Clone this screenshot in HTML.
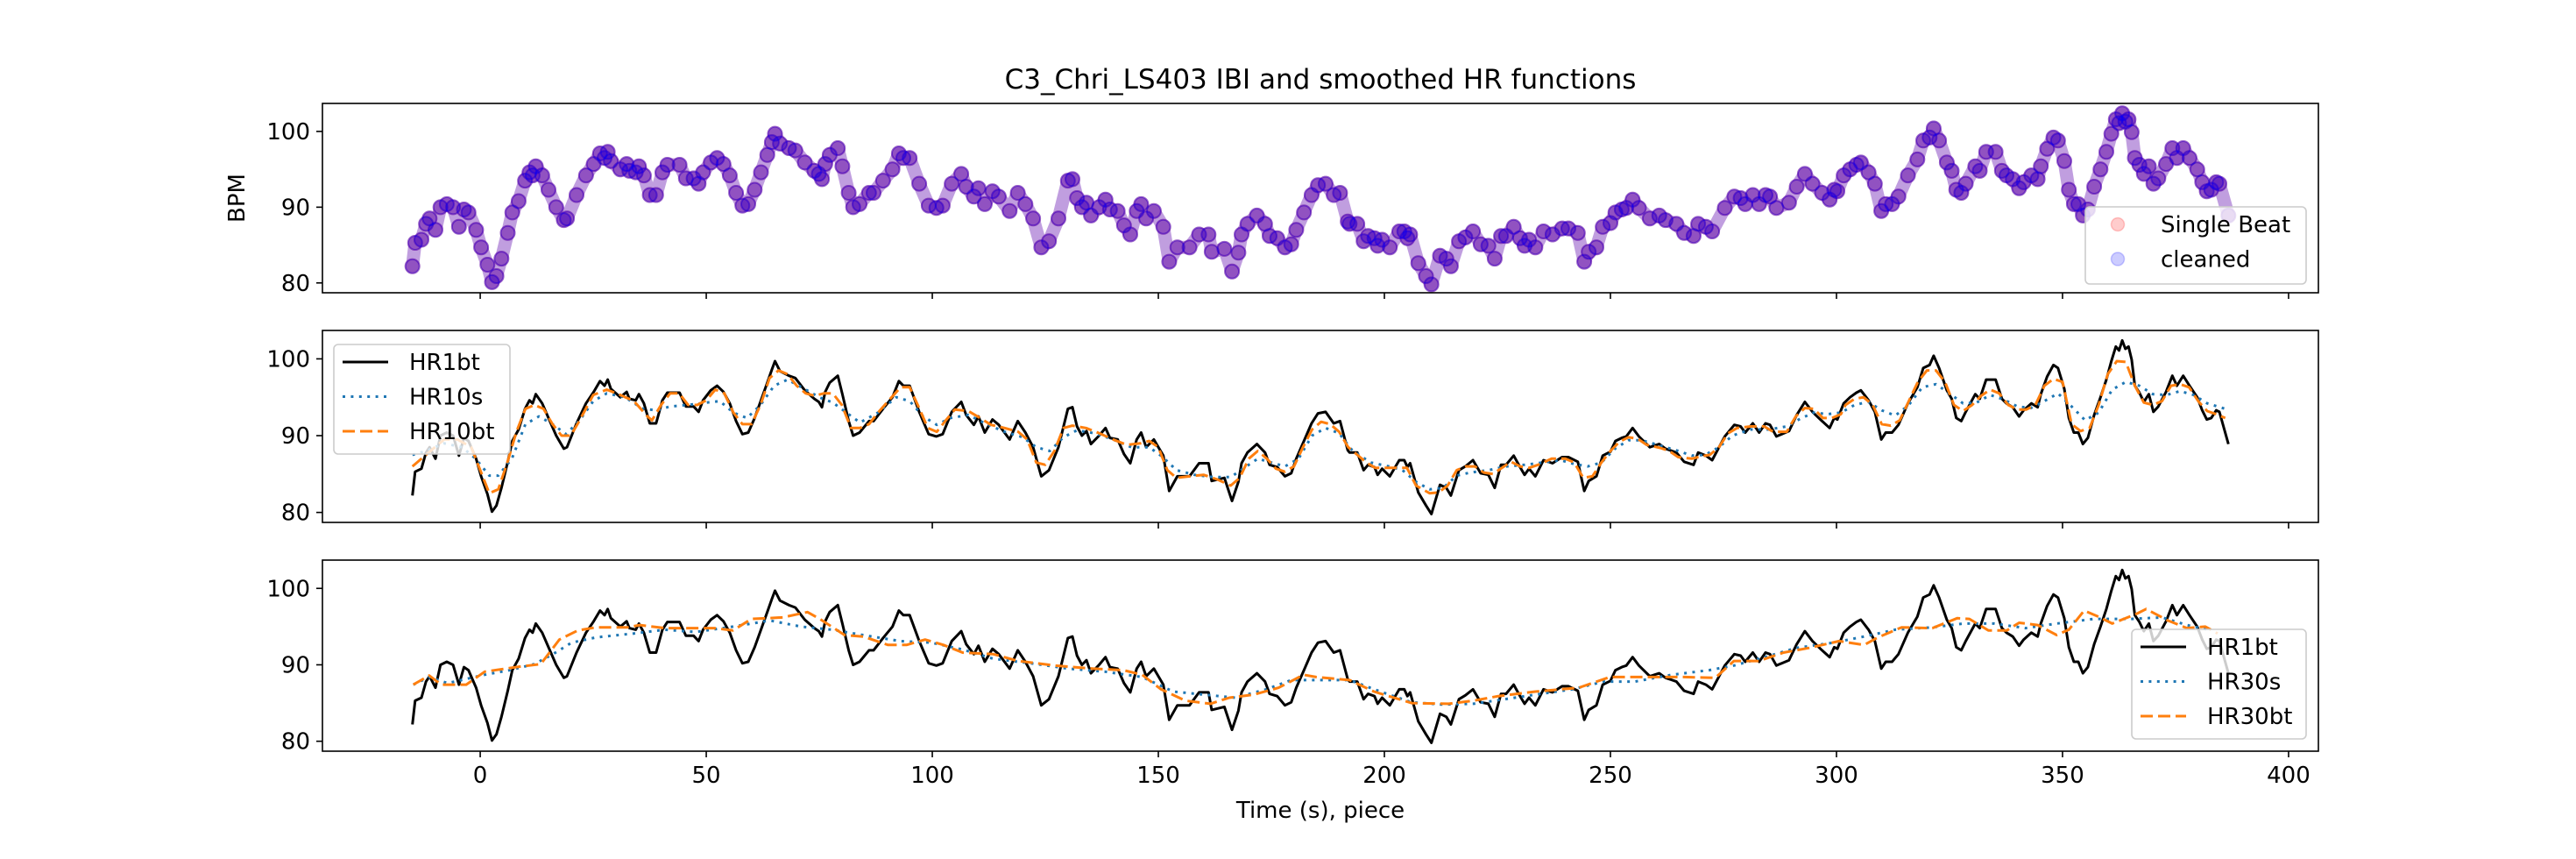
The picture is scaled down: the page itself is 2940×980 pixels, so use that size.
<!DOCTYPE html>
<html><head><meta charset="utf-8">
<style>
html,body{margin:0;padding:0;background:#fff;}
svg{display:block;font-family:"DejaVu Sans","Liberation Sans",sans-serif;}
</style></head>
<body>
<svg id="chart" width="2940" height="980" viewBox="0 0 2940 980" xmlns="http://www.w3.org/2000/svg">
<rect x="0" y="0" width="2940" height="980" fill="#fff"/>
<text x="1507" y="101" font-size="31" text-anchor="middle" fill="#000">C3_Chri_LS403 IBI and smoothed HR functions</text>
</svg>
<script>
// ---- data ----
const xTicks = [0,50,100,150,200,250,300,350,400];
const yTicks = [80,90,100];
const hr1 = [[-15.0,82.2],[-14.4,85.3],[-13.0,85.7],[-12.0,87.8],[-11.2,88.5],[-9.9,87.0],[-8.8,90.0],[-7.4,90.4],[-6.0,90.0],[-4.7,87.4],[-3.6,89.7],[-2.6,89.3],[-0.9,87.0],[0.2,84.7],[1.6,82.4],[2.6,80.1],[3.6,80.9],[4.7,83.2],[6.1,86.6],[7.1,89.3],[8.5,90.8],[9.9,93.5],[10.9,94.6],[11.6,94.2],[12.3,95.4],[13.7,94.2],[15.1,92.3],[16.8,90.0],[18.5,88.3],[19.2,88.5],[21.3,91.6],[23.4,94.2],[25.1,95.7],[26.5,97.1],[27.5,96.5],[28.2,97.3],[28.9,96.1],[31.0,95.0],[32.4,95.7],[33.0,94.8],[34.4,94.6],[35.1,95.4],[36.2,94.2],[37.5,91.6],[38.9,91.6],[40.3,94.6],[41.4,95.6],[44.1,95.6],[45.5,93.8],[47.2,93.8],[48.3,93.1],[49.3,94.6],[51.0,95.9],[52.4,96.5],[53.8,95.7],[55.2,94.2],[56.6,91.9],[58.0,90.2],[59.3,90.4],[60.7,92.3],[62.1,94.6],[63.5,96.9],[64.5,98.6],[65.2,99.7],[66.3,98.4],[68.3,97.8],[69.7,97.5],[71.8,95.9],[73.9,94.8],[74.9,94.4],[75.6,93.7],[76.3,95.7],[77.3,96.9],[79.1,97.8],[80.1,95.4],[81.5,91.9],[82.5,90.0],[83.9,90.4],[86.0,91.9],[87.0,91.9],[89.1,93.5],[91.2,95.0],[92.6,97.1],[93.6,96.5],[95.0,96.5],[97.1,93.1],[99.2,90.2],[100.9,89.9],[102.3,90.2],[104.3,93.1],[106.4,94.4],[107.5,92.7],[109.2,91.4],[110.2,92.5],[111.6,90.4],[113.3,92.1],[114.7,91.4],[117.1,89.5],[118.9,91.9],[120.6,90.4],[122.3,88.5],[124.1,84.7],[125.8,85.5],[127.9,88.5],[130.0,93.5],[131.0,93.7],[132.0,91.2],[133.1,90.0],[134.1,90.6],[135.1,88.9],[136.9,90.0],[138.3,91.0],[139.3,89.7],[141.0,89.5],[142.4,87.6],[143.8,86.4],[145.2,89.5],[146.2,90.4],[147.3,88.5],[149.0,89.5],[151.1,87.4],[152.4,82.8],[154.2,84.7],[156.9,84.7],[159.0,86.4],[161.1,86.4],[161.8,84.1],[164.6,84.5],[166.3,81.5],[167.7,84.0],[168.4,86.4],[169.7,87.8],[171.8,88.9],[173.6,87.8],[174.6,86.2],[176.3,85.9],[178.0,84.7],[179.4,85.1],[180.5,87.0],[182.2,89.3],[183.9,91.6],[185.3,92.9],[187.0,93.1],[188.8,91.6],[190.2,91.9],[191.9,88.1],[192.3,87.8],[194.0,87.8],[195.4,85.5],[196.4,86.2],[197.8,85.9],[198.5,84.9],[199.5,85.7],[201.2,84.7],[203.3,86.8],[204.4,86.8],[205.1,85.9],[205.7,86.4],[207.5,82.6],[209.2,80.9],[210.4,79.8],[212.3,83.6],[213.7,83.2],[214.7,82.2],[216.5,85.5],[217.9,86.0],[219.6,86.8],[221.3,85.1],[223.0,84.9],[224.4,83.2],[225.8,86.2],[226.9,86.2],[228.6,87.4],[230.0,85.9],[231.0,84.9],[232.0,85.7],[233.4,84.7],[235.2,86.8],[237.2,86.4],[239.3,87.2],[240.7,87.2],[242.8,86.6],[244.2,82.8],[245.2,84.1],[246.9,84.7],[248.3,87.4],[250.0,87.9],[251.1,89.3],[252.5,89.7],[253.5,89.9],[254.9,91.0],[256.3,89.9],[258.7,88.5],[260.8,88.9],[262.2,88.3],[264.6,87.8],[266.3,86.6],[268.4,86.2],[269.4,87.8],[271.1,87.4],[272.5,86.8],[275.3,89.9],[277.4,91.4],[278.8,91.2],[279.8,90.4],[281.5,91.6],[282.9,90.4],[284.3,91.6],[285.3,91.4],[286.7,89.9],[289.5,90.6],[291.2,92.7],[293.0,94.4],[294.7,93.1],[296.8,91.9],[298.5,91.0],[299.5,92.3],[300.2,92.1],[301.6,94.2],[303.0,95.0],[304.4,95.6],[305.4,95.9],[307.1,94.6],[308.5,93.1],[309.9,89.5],[310.9,90.4],[312.3,90.4],[313.7,91.4],[315.8,94.2],[317.9,96.3],[319.2,98.8],[320.6,99.2],[321.5,100.4],[322.7,98.8],[324.4,95.9],[325.5,94.8],[326.5,92.3],[327.6,91.9],[328.6,93.1],[330.7,95.4],[331.7,94.8],[333.1,97.3],[335.2,97.3],[336.6,94.8],[337.6,94.2],[339.0,93.7],[340.4,92.5],[341.4,93.3],[343.1,94.2],[344.5,93.7],[345.2,95.4],[346.6,97.7],[348.0,99.2],[349.0,98.8],[350.4,96.1],[351.4,92.3],[352.5,90.4],[353.5,90.4],[354.5,88.9],[355.6,89.7],[357.0,92.7],[358.4,95.0],[359.7,97.3],[360.8,99.7],[361.8,101.6],[362.5,101.1],[363.2,102.4],[363.9,101.3],[364.6,101.6],[365.3,99.9],[366.0,96.5],[367.0,95.6],[368.0,94.4],[369.1,95.4],[370.1,93.1],[371.2,93.8],[372.9,95.7],[374.3,97.8],[375.3,96.5],[376.7,97.8],[378.1,96.5],[379.8,95.0],[380.9,93.3],[381.9,92.1],[382.9,92.3],[384.0,93.3],[384.7,93.1],[386.7,88.9]];
const hr10s = [[-15,87.5],[-12,88],[-8,89],[-4,88.5],[-1,87],[2,84.8],[4,84.8],[7,87],[10,91.5],[13,92.5],[16,91.5],[19,90.2],[22,92],[25,94.5],[28,95.5],[32,95],[36,93.5],[39,93.3],[42,93.8],[46,94],[50,94.3],[53,94.5],[56,93],[59,92.3],[62,94],[65,96.5],[68,97.3],[72,96],[75,95],[78,94.3],[81,93],[84,91.7],[88,93],[92,95],[95,94.5],[98,92.5],[101,91.4],[104,92.3],[108,92.7],[112,91.5],[116,90.5],[120,89.8],[123,88.5],[126,88],[129,89.8],[132,90.7],[136,90.3],[140,89.5],[144,88.5],[148,88.5],[151,87.2],[154,85.5],[158,84.9],[162,84.6],[166,84.6],[169,85.8],[172,87],[175,86.5],[178,86],[181,87],[184,90],[187,91],[190,90.3],[193,88],[197,86.5],[201,86],[204,85.5],[207,84],[210,83],[213,83.2],[216,84.8],[219,85.2],[223,85.5],[227,86],[231,86.2],[235,86.5],[239,86.8],[242,86.3],[245,86],[248,86.5],[251,88.3],[254,89.4],[257,89.4],[261,88.7],[265,88],[268,87.4],[271,87.5],[274,88.5],[277,90],[281,90.8],[285,90.8],[289,91.2],[292,92.2],[295,93],[298,92.8],[301,93],[304,94],[307,94.4],[310,93.3],[313,92.6],[316,94],[319,96.3],[322,96.7],[325,95.5],[328,94.2],[331,94.3],[334,95.3],[337,94.7],[340,93.8],[343,93.6],[346,94.5],[349,95.5],[352,93.8],[355,92],[358,93],[361,96],[364,97],[367,96.5],[370,95.4],[373,95.3],[376,95.8],[379,95.3],[382,94.2],[386,93.5]];
const hr10bt = [[-15,86],[-12,87.5],[-8,89.5],[-5,89.5],[-2,88.5],[0,85.5],[2,82.5],[4,83],[6,86.5],[8,90.5],[10,93.5],[12,94],[14,93.5],[16,91.5],[18,90],[20,90],[22,92],[25,95.3],[28,96],[31,95.3],[34,94.5],[37,92.5],[38,92],[40,94],[42,95.5],[44,95.5],[46,94],[48,94],[50,94.6],[52,96],[54,95.5],[56,93],[58,91.5],[60,91.5],[62,94],[64,97.5],[66,98.5],[68,98],[70,96.5],[72,95.5],[74,95.2],[76,95.5],[78,95.5],[80,94],[82,91],[84,91],[86,91.5],[88,93],[91,95],[93,96.3],[95,96.3],[97,93.7],[99,91],[101,90.5],[103,92],[105,93.4],[108,93.2],[110,92.5],[113,91.4],[116,91],[119,90.5],[121,89.5],[123,86.5],[125,86.2],[127,88],[129,91],[131,91.3],[134,91],[137,90.3],[140,89.5],[143,88.8],[146,89],[148,89.3],[150,88.5],[152,85.5],[154,84.5],[157,84.7],[160,84.9],[163,84.3],[166,83.5],[168,84.5],[170,87],[172,88],[174,87],[176,85.7],[178,85.3],[180,86],[182,88.5],[184,90.8],[186,91.8],[188,91.5],[190,90.5],[192,88.5],[194,87.5],[196,86.5],[198,85.8],[202,85.8],[205,85.8],[207,83.5],[210,82.5],[212,82.6],[214,83.5],[216,85.5],[218,86],[220,86],[222,85.2],[224,85],[226,85.8],[228,86.6],[230,86],[232,85.8],[234,86.2],[237,87],[240,87],[242,86.5],[244,84.5],[246,84.7],[248,86.5],[250,88],[252,89.2],[254,89.8],[256,89.6],[258,88.8],[261,88.4],[263,88],[265,87.2],[268,87],[270,87.3],[272,87.5],[274,88.5],[276,90.3],[278,91],[281,91.2],[284,91.2],[286,90.5],[289,90.5],[291,92.5],[293,93.6],[295,93.5],[297,92.3],[299,92.3],[301,92.8],[302,94],[304,94.8],[306,95],[308,94],[310,91.5],[312,91.3],[314,92],[316,94.5],[318,97],[320,98.5],[322,98.5],[324,97],[326,94],[328,93.2],[330,94],[332,95.2],[334,96],[336,95.5],[338,94],[340,93.4],[342,93.4],[344,94],[346,96.5],[348,97.4],[350,97],[352,91.5],[354,90.6],[356,91],[358,94],[360,98],[362,99.7],[364,99.6],[366,96.5],[368,94.3],[370,94],[372,94.5],[374,96.5],[376,96.7],[378,96.3],[380,94.5],[382,93.2],[384,92.8],[386,92.3]];
const hr30s = [[-14.8,87.4],[-11.3,88.4],[-7.2,87.6],[1.0,88.7],[6.5,89.3],[12.0,90.1],[16.1,91.4],[20.2,92.9],[25.7,93.6],[34.0,94.1],[40.8,94.6],[47.7,94.3],[55.9,95.0],[64.1,95.8],[71.0,95.0],[77.8,94.6],[84.7,93.9],[92.9,93.1],[99.8,92.9],[106.7,92.0],[113.5,90.8],[123.1,90.1],[130.0,89.5],[138.2,89.1],[146.4,88.4],[153.3,86.5],[160.2,86.1],[167.0,85.7],[173.9,86.8],[179.4,88.0],[187.6,88.0],[192.3,88.0],[199.1,86.5],[206.0,85.1],[212.8,84.8],[219.7,84.9],[226.6,85.5],[233.4,86.1],[241.6,86.8],[248.5,87.8],[255.4,87.8],[263.6,88.7],[271.8,89.3],[277.3,89.9],[284.2,91.0],[291.0,92.2],[299.3,92.9],[306.1,93.7],[313.0,94.6],[321.2,94.9],[328.1,95.4],[334.9,95.4],[341.8,94.8],[348.7,95.4],[356.9,96.0],[365.1,96.0],[372.0,96.2],[377.5,95.2],[382.9,94.5]];
const hr30bt = [[-14.8,87.4],[-11.3,88.6],[-8.6,87.4],[-3.1,87.4],[1.0,89.1],[7.9,89.7],[13.4,90.1],[17.5,93.3],[21.6,94.5],[25.7,94.9],[32.6,94.9],[35.3,95.2],[40.8,94.8],[51.8,94.8],[55.9,94.5],[60.0,96.0],[66.9,96.2],[72.4,96.9],[75.1,96.0],[80.6,93.9],[84.7,93.7],[90.2,92.6],[94.3,92.6],[98.4,93.3],[102.5,92.6],[106.7,91.6],[113.5,91.4],[119.0,90.5],[127.2,89.9],[135.5,89.5],[142.3,89.3],[146.4,88.7],[150.6,86.8],[156.0,85.3],[161.5,84.9],[165.7,85.7],[171.1,86.1],[176.6,87.0],[182.1,88.7],[184.9,88.4],[192.3,88.0],[197.7,86.5],[206.0,85.0],[214.2,84.9],[219.7,85.3],[225.2,85.9],[233.4,86.5],[243.0,87.0],[249.9,88.4],[258.1,88.4],[266.3,88.4],[273.2,88.3],[277.3,90.5],[282.8,90.5],[288.3,91.6],[293.8,92.2],[300.6,93.1],[306.1,92.6],[308.9,93.5],[314.4,94.9],[321.2,94.8],[326.7,96.1],[329.4,96.0],[333.6,94.5],[337.7,94.5],[340.4,95.5],[344.5,95.2],[348.7,93.9],[351.4,94.6],[354.8,97.1],[358.3,96.2],[361.0,95.4],[366.5,96.7],[368.5,97.3],[373.3,95.8],[377.5,94.8],[381.6,95.0],[384.3,94.1]];

// ---- layout ----
const NS = 'http://www.w3.org/2000/svg';
const svg = document.getElementById('chart');
const AX_L = 368, AX_R = 2646;
const X_MIN = -34.9, X_MAX = 406.6, Y_MIN = 78.7, Y_MAX = 103.7;
const panels = [{top:118,bot:334},{top:377,bot:596},{top:639,bot:857}];
function xs(t){ return AX_L + (t - X_MIN) / (X_MAX - X_MIN) * (AX_R - AX_L); }
function ys(p, v){ return p.bot - (v - Y_MIN) / (Y_MAX - Y_MIN) * (p.bot - p.top); }
function mk(tag, attrs, parent){
  const e = document.createElementNS(NS, tag);
  for (const k in attrs) e.setAttribute(k, attrs[k]);
  (parent || svg).appendChild(e);
  return e;
}
function pathD(p, data){ return data.map((d,i)=>(i?'L':'M')+xs(d[0]).toFixed(1)+','+ys(p,d[1]).toFixed(1)).join(''); }

const defs = mk('defs', {});
panels.forEach((p,i)=>{
  const cp = mk('clipPath', {id:'clip'+i}, defs);
  mk('rect', {x:AX_L, y:p.top, width:AX_R-AX_L, height:p.bot-p.top}, cp);
});

function drawAxes(p, idx, showXLabels){
  const g = mk('g', {});
  
  
  yTicks.forEach(v=>{
    const y = ys(p, v);
    const tk = mk('line', {x1:AX_L-7, x2:AX_L, y1:y, y2:y, stroke:'#000', 'stroke-width':1.6}, g);
    
    
    const tl = mk('text', {x:AX_L-14, y:y+9, 'font-size':26, 'text-anchor':'end', fill:'#000'}, g);
    
    
    tl.textContent = v;
  });
  xTicks.forEach(v=>{
    const x = xs(v);
    const tk = mk('line', {x1:x, x2:x, y1:p.bot, y2:p.bot+7, stroke:'#000', 'stroke-width':1.6}, g);
    
    
    if (showXLabels){
      const tl = mk('text', {x:x, y:p.bot+36, 'font-size':26, 'text-anchor':'middle', fill:'#000'}, g);
      
      
      tl.textContent = v;
    }
  });
}
function drawFrame(p, idx){
  const r = mk('rect', {x:AX_L, y:p.top, width:AX_R-AX_L, height:p.bot-p.top, fill:'none', stroke:'#000', 'stroke-width':1.6});
  
  
}
function drawLine(p, idx, data, color, dash, name){
  const e = mk('path', {d:pathD(p,data), fill:'none', stroke:color, 'stroke-width':3, 'stroke-linejoin':'round', 'clip-path':'url(#clip'+idx+')'});
  if (dash) e.setAttribute('stroke-dasharray', dash);
  
  
}
function legend(x, y, w, h, items, name){
  const g = mk('g', {});
  
  
  mk('rect', {x:x, y:y, width:w, height:h, rx:5, fill:'#fff', 'fill-opacity':0.8, stroke:'#ccc', 'stroke-width':1.6}, g);
  items.forEach((it,i)=>{
    const cy = y + 20 + i*39.5;
    if (it.type === 'marker'){
      const c = mk('circle', {cx:x+37, cy:cy, r:7.5, fill:it.color, 'fill-opacity':0.2, stroke:it.color, 'stroke-opacity':0.2, 'stroke-width':1.5}, g);
      
      
    } else {
      const l = mk('line', {x1:x+10, x2:x+62, y1:cy, y2:cy, stroke:it.color, 'stroke-width':3}, g);
      if (it.dash) l.setAttribute('stroke-dasharray', it.dash);
      
      
    }
    const t = mk('text', {x:x+86, y:cy+9, 'font-size':26, fill:'#000'}, g);
    
    
    t.textContent = it.label;
  });
}

const DOT = '3,6.4', DASH = '14,6';

panels.forEach((p,i)=>drawAxes(p, i, i===2));

// panel 1 scatter (dense beat band)
const sg = mk('g', {'clip-path':'url(#clip0)'});


const band = mk('path', {d:pathD(panels[0], hr1), fill:'none', stroke:'#8d4fc4', 'stroke-opacity':0.55, 'stroke-width':15, 'stroke-linejoin':'round', 'stroke-linecap':'round'}, sg);


[['#ff0000','single-beat-point',0.25],['#0000ff','cleaned-point',0.3]].forEach(([col,nm,op])=>{
  hr1.forEach(d=>{
    const c = mk('circle', {cx:xs(d[0]).toFixed(1), cy:ys(panels[0],d[1]).toFixed(1), r:8, fill:col, 'fill-opacity':op, stroke:col, 'stroke-opacity':op+0.1, 'stroke-width':2}, sg);
    
    
  });
});

// panel 2
drawLine(panels[1], 1, hr1, '#000', null, 'hr1bt-line-panel2');
drawLine(panels[1], 1, hr10s, '#1f77b4', DOT, 'hr10s-line');
drawLine(panels[1], 1, hr10bt, '#ff7f0e', DASH, 'hr10bt-line');
// panel 3
drawLine(panels[2], 2, hr1, '#000', null, 'hr1bt-line-panel3');
drawLine(panels[2], 2, hr30s, '#1f77b4', DOT, 'hr30s-line');
drawLine(panels[2], 2, hr30bt, '#ff7f0e', DASH, 'hr30bt-line');

panels.forEach((p,i)=>drawFrame(p,i));

legend(2380, 236, 252, 88, [{type:'marker',color:'#ff0000',label:'Single Beat'},{type:'marker',color:'#0000ff',label:'cleaned'}], 'legend-panel1');
legend(381, 393, 201, 125, [{color:'#000',label:'HR1bt'},{color:'#1f77b4',dash:DOT,label:'HR10s'},{color:'#ff7f0e',dash:DASH,label:'HR10bt'}], 'legend-panel2');
legend(2433, 718, 199, 125, [{color:'#000',label:'HR1bt'},{color:'#1f77b4',dash:DOT,label:'HR30s'},{color:'#ff7f0e',dash:DASH,label:'HR30bt'}], 'legend-panel3');

const yl = mk('text', {x:0, y:0, 'font-size':26, 'text-anchor':'middle', fill:'#000', transform:'translate(279,226) rotate(-90)'});


yl.textContent = 'BPM';
const xl = mk('text', {x:1507, y:933, 'font-size':26, 'text-anchor':'middle', fill:'#000'});


xl.textContent = 'Time (s), piece';
</script>
</body></html>
